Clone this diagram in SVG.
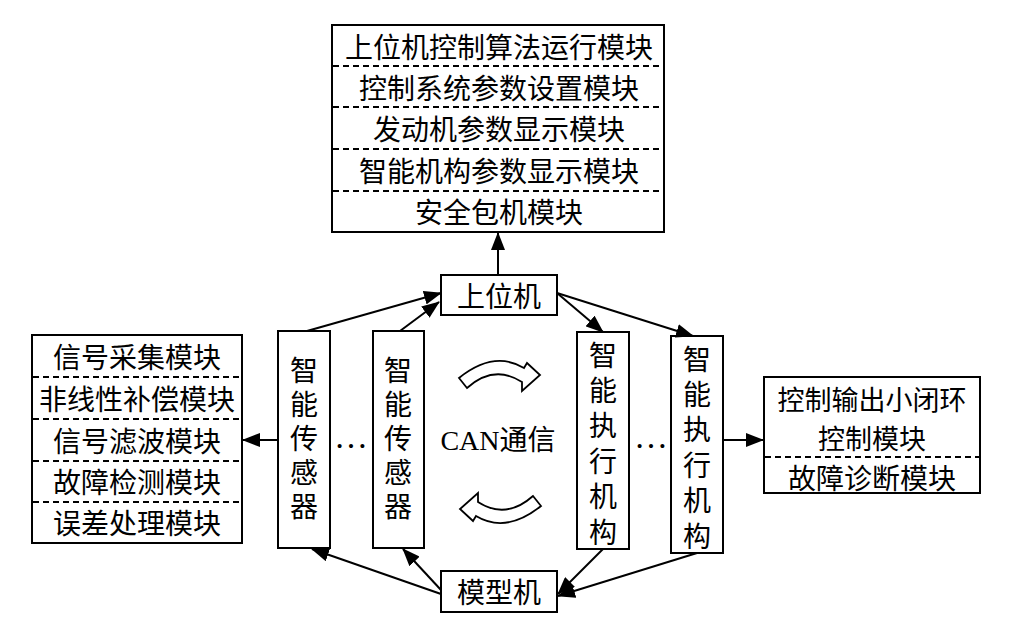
<svg xmlns="http://www.w3.org/2000/svg" width="1036" height="628" viewBox="0 0 1036 628">
  <defs>
    <marker id="arrow" viewBox="0 0 18 14" refX="17" refY="7" markerWidth="9" markerHeight="7" markerUnits="strokeWidth" orient="auto">
      <path d="M0,0 L18,7 L0,14 z" fill="#000"/>
    </marker>
    <style>
      .box { fill: #fff; stroke: #000; stroke-width: 2; }
      .div { stroke: #000; stroke-width: 2; stroke-dasharray: 6 4; fill: none; }
      .cn { font-family: "Noto Sans CJK SC", "Liberation Serif", serif; font-size: 28px; fill: #000; text-anchor: middle; dominant-baseline: central; }
      .vt { font-family: "Noto Sans CJK SC", "Liberation Serif", serif; font-size: 28px; fill: #000; writing-mode: vertical-rl; text-anchor: start; }
      .vs { letter-spacing: 6px; }
      .va { letter-spacing: 7.4px; }
      .conn { stroke: #000; stroke-width: 2; fill: none; marker-end: url(#arrow); }
      .dots { font-family: "Liberation Serif", serif; font-size: 34px; fill: #000; text-anchor: middle; }
      .can { font-family: "Liberation Serif", "Noto Sans CJK SC", serif; font-size: 28px; fill: #000; text-anchor: middle; }
      .blk { fill: #fff; stroke: #000; stroke-width: 1.8; stroke-linejoin: miter; }
    </style>
  </defs>

  <rect width="1036" height="628" fill="#fff"/>

  <!-- host software modules -->
  <g id="host-modules">
    <rect class="box" x="332" y="25" width="332" height="207"/>
    <line class="div" x1="333" y1="66" x2="663" y2="66"/>
    <line class="div" x1="333" y1="107" x2="663" y2="107"/>
    <line class="div" x1="333" y1="149" x2="663" y2="149"/>
    <line class="div" x1="333" y1="191" x2="663" y2="191"/>
    <text class="cn" x="499" y="46">上位机控制算法运行模块</text>
    <text class="cn" x="499" y="87">控制系统参数设置模块</text>
    <text class="cn" x="499" y="128">发动机参数显示模块</text>
    <text class="cn" x="499" y="170">智能机构参数显示模块</text>
    <text class="cn" x="499" y="211">安全包机模块</text>
  </g>

  <!-- host computer -->
  <g id="host">
    <rect class="box" x="441" y="275" width="116" height="40"/>
    <text class="cn" x="499" y="295">上位机</text>
  </g>

  <!-- model computer -->
  <g id="model">
    <rect class="box" x="441" y="571" width="116" height="41"/>
    <text class="cn" x="499" y="591">模型机</text>
  </g>

  <!-- sensor modules -->
  <g id="sensor-modules">
    <rect class="box" x="32" y="335" width="210" height="208"/>
    <line class="div" x1="33" y1="377" x2="241" y2="377"/>
    <line class="div" x1="33" y1="419" x2="241" y2="419"/>
    <line class="div" x1="33" y1="461" x2="241" y2="461"/>
    <line class="div" x1="33" y1="502" x2="241" y2="502"/>
    <text class="cn" x="137" y="356">信号采集模块</text>
    <text class="cn" x="137" y="398">非线性补偿模块</text>
    <text class="cn" x="137" y="440">信号滤波模块</text>
    <text class="cn" x="137" y="481">故障检测模块</text>
    <text class="cn" x="137" y="522">误差处理模块</text>
  </g>

  <!-- actuator modules -->
  <g id="actuator-modules">
    <rect class="box" x="764" y="377" width="216" height="116"/>
    <line class="div" x1="765" y1="457" x2="979" y2="457"/>
    <text class="cn" x="872" y="398" style="font-size:27px">控制输出小闭环</text>
    <text class="cn" x="872" y="437" style="font-size:27px">控制模块</text>
    <text class="cn" x="872" y="477">故障诊断模块</text>
  </g>

  <!-- smart sensors (vertical labels) -->
  <g id="sensor-1">
    <rect class="box" x="278" y="331" width="52" height="217"/>
    <text class="vt vs" x="304" y="356">智能传感器</text>
  </g>
  <g id="sensor-2">
    <rect class="box" x="373" y="331" width="51" height="217"/>
    <text class="vt vs" x="398" y="356">智能传感器</text>
  </g>
  <text class="dots" x="351" y="448">…</text>

  <!-- smart actuators (vertical labels) -->
  <g id="actuator-1">
    <rect class="box" x="577" y="332" width="52" height="217"/>
    <text class="vt va" x="603" y="341">智能执行机构</text>
  </g>
  <g id="actuator-2">
    <rect class="box" x="671" y="336" width="52" height="217"/>
    <text class="vt va" x="697" y="345">智能执行机构</text>
  </g>
  <text class="dots" x="651" y="448">…</text>

  <!-- CAN bus with circulating block arrows -->
  <g id="can-bus">
    <path class="blk" d="M459,378 Q494,350 524,368 L527,363 L540,375 L522,391 L522,382 Q494,364 467,388 Z"/>
    <path class="blk" transform="rotate(180 500 442)" d="M459,378 Q494,350 524,368 L527,363 L540,375 L522,391 L522,382 Q494,364 467,388 Z"/>
    <text class="can" x="498" y="450">CAN通信</text>
  </g>

  <!-- connectors -->
  <g id="connectors">
    <line class="conn" x1="498" y1="275" x2="498" y2="233"/>
    <line class="conn" x1="307" y1="331" x2="441" y2="293"/>
    <line class="conn" x1="400" y1="331" x2="439" y2="302"/>
    <line class="conn" x1="557" y1="293" x2="603" y2="332"/>
    <line class="conn" x1="557" y1="293" x2="693" y2="336"/>
    <line class="conn" x1="603" y1="549" x2="558" y2="594"/>
    <line class="conn" x1="697" y1="553" x2="558" y2="596"/>
    <line class="conn" x1="441" y1="594" x2="312" y2="549"/>
    <line class="conn" x1="441" y1="590" x2="403" y2="549"/>
    <line class="conn" x1="278" y1="440" x2="243" y2="440"/>
    <line class="conn" x1="723" y1="440" x2="763" y2="440"/>
  </g>
</svg>
